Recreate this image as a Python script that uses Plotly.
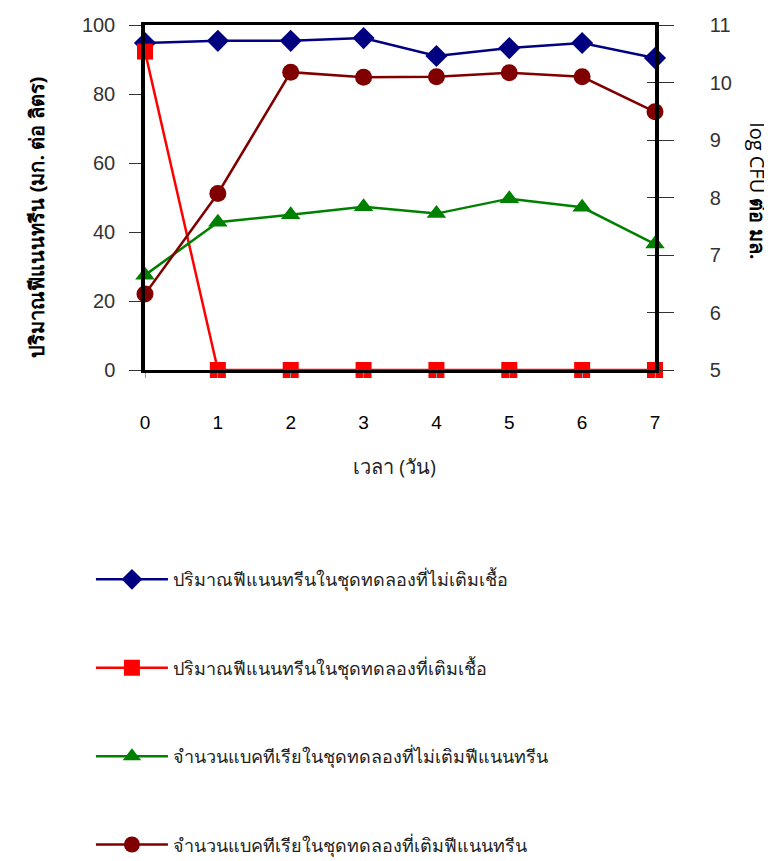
import plotly.graph_objects as go

days = [0, 1, 2, 3, 4, 5, 6, 7]
phen_no_inoc = [94.8, 95.4, 95.4, 96.2, 91.0, 93.3, 94.8, 90.4]
phen_inoc = [92.3, 0, 0, 0, 0, 0, 0, 0]
bact_no_phen = [6.65, 7.57, 7.7, 7.84, 7.72, 7.98, 7.83, 7.19]
bact_phen = [6.32, 8.07, 10.18, 10.09, 10.1, 10.17, 10.1, 9.49]
left_ticks = [0, 20, 40, 60, 80, 100]
right_ticks = [5, 6, 7, 8, 9, 10, 11]

names = [
    "ปริมาณฟีแนนทรีนในชุดทดลองที่ไม่เติมเชื้อ",
    "ปริมาณฟีแนนทรีนในชุดทดลองที่เติมเชื้อ",
    "จำนวนแบคทีเรียในชุดทดลองที่ไม่เติมฟีแนนทรีน",
    "จำนวนแบคทีเรียในชุดทดลองที่เติมฟีแนนทรีน",
]

fig = go.Figure()
fig.add_trace(go.Scatter(x=days, y=phen_no_inoc, name=names[0], yaxis="y",
                         mode="lines+markers", line=dict(color="#000080", width=2.5),
                         marker=dict(symbol="diamond", size=17, color="#000080"),
                         cliponaxis=False, legendgroup="a"))
fig.add_trace(go.Scatter(x=days, y=phen_inoc, name=names[1], yaxis="y",
                         mode="lines+markers", line=dict(color="#FF0000", width=2.5),
                         marker=dict(symbol="square", size=16, color="#FF0000"),
                         cliponaxis=False, legendgroup="b"))
fig.add_trace(go.Scatter(x=days, y=bact_no_phen, name=names[2], yaxis="y2",
                         mode="lines+markers", line=dict(color="#008000", width=2.5),
                         marker=dict(symbol="triangle-up", size=17, color="#008000"),
                         cliponaxis=False, legendgroup="c"))
fig.add_trace(go.Scatter(x=days, y=bact_phen, name=names[3], yaxis="y2",
                         mode="lines+markers", line=dict(color="#800000", width=2.5),
                         marker=dict(symbol="circle", size=17, color="#800000"),
                         cliponaxis=False, legendgroup="d"))
# invisible helper trace so the inner right tick marks are drawn
fig.add_trace(go.Scatter(x=[days[0]], y=[right_ticks[0]], yaxis="y3", mode="markers",
                         marker=dict(opacity=0), showlegend=False, hoverinfo="skip"))

ytick_font = dict(family="Liberation Sans, Arial, sans-serif", size=20, color="#333333")

fig.update_layout(
    width=764, height=853,
    margin=dict(l=137, r=117, t=17, b=491, autoexpand=False),
    paper_bgcolor="white", plot_bgcolor="white",
    showlegend=True,
    xaxis=dict(range=[0, 7], tickvals=days, ticks="outside", ticklen=5,
               tickcolor="#999999", showgrid=False, zeroline=False,
               showline=True, linecolor="black", linewidth=3, mirror=True,
               ticklabelstandoff=28, automargin=False,
               tickfont=dict(family="Liberation Sans, Arial, sans-serif", size=19, color="black")),
    yaxis=dict(range=[0, 100], tickvals=left_ticks, ticks="outside",
               ticklen=12, tickcolor="#333333", showgrid=False, zeroline=False,
               showline=True, linecolor="black", linewidth=3.5, automargin=False,
               ticklabelstandoff=10, tickfont=ytick_font),
    yaxis2=dict(range=[5, 11], tickvals=right_ticks, overlaying="y",
                side="right", ticks="outside", ticklen=15, tickcolor="#333333",
                showgrid=False, zeroline=False, showline=True, linecolor="black",
                linewidth=3.5, ticklabelstandoff=32, automargin=False, tickfont=ytick_font),
    yaxis3=dict(range=[5, 11], tickvals=right_ticks, overlaying="y",
                side="right", ticks="inside", ticklen=8, tickcolor="#333333",
                showgrid=False, zeroline=False, showline=False, showticklabels=False,
                automargin=False),
    legend=dict(x=-0.106, xanchor="left", y=-0.554, yanchor="top",
                tracegroupgap=62, itemwidth=72,
                font=dict(size=18, color="#222222"), bgcolor="rgba(0,0,0,0)"),
    annotations=[
        dict(text="<b>ปริมาณฟีแนนทรีน (มก. ต่อ ลิตร)</b>", xref="paper", yref="paper",
             x=-0.213, y=0.443, xanchor="center", yanchor="middle", textangle=-90,
             showarrow=False, font=dict(size=20, color="black")),
        dict(text="log CFU <b>ต่อ มล.</b>", xref="paper", yref="paper",
             x=1.2, y=0.52, xanchor="center", yanchor="middle", textangle=90,
             showarrow=False, font=dict(size=20, color="black")),
        dict(text="เวลา (วัน)", xref="paper", yref="paper",
             x=0.49, y=-0.281, xanchor="center", yanchor="middle",
             showarrow=False, font=dict(size=20, color="#222222")),
    ],
)

fig.write_html("out.html")
